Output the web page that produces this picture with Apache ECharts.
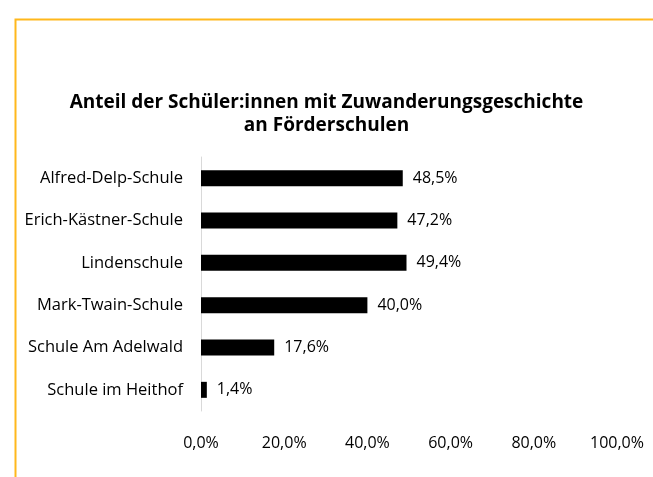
<!DOCTYPE html>
<html><head><meta charset="utf-8">
<script src="https://cdn.jsdelivr.net/npm/echarts@6/dist/echarts.min.js"></script>
<style>html,body{margin:0;padding:0;background:#fff}#c{width:653px;height:477px}</style>
</head><body><div id="c"></div>
<script>
const categories = ["Alfred-Delp-Schule","Erich-Kästner-Schule","Lindenschule","Mark-Twain-Schule","Schule Am Adelwald","Schule im Heithof"];
const values = [48.5, 47.2, 49.4, 40.0, 17.6, 1.4];
const titleLines = ["Anteil der Schüler:innen mit Zuwanderungsgeschichte","an Förderschulen"];
const fmt = v => v.toFixed(1).replace('.', ',') + '%';
const chart = echarts.init(document.getElementById('c'));
const FONT = '"Open Sans", "Liberation Sans", sans-serif';
chart.setOption({
  animation:false,
  graphic:[{type:'polyline',shape:{points:[[15.5,477],[15.5,19.5],[653,19.5]]},style:{stroke:'#FFB81C',lineWidth:2,fill:null}}],
  title:{text:titleLines.join('\n'),left:'center',top:86,textStyle:{fontFamily:FONT,fontWeight:'bold',fontSize:19,color:'#000',lineHeight:23}},
  grid:{left:201,right:36,top:157,bottom:66,containLabel:false},
  xAxis:{type:'value',min:0,max:100,interval:20,axisLine:{show:false},axisTick:{show:false},splitLine:{show:false},
    axisLabel:{formatter:v=>fmt(v),fontFamily:FONT,fontSize:16,color:'#000',margin:24}},
  yAxis:{type:'category',inverse:true,data:categories,axisLine:{show:true,lineStyle:{color:'#d9d9d9',width:1}},axisTick:{show:false},
    axisLabel:{fontFamily:FONT,fontSize:16.5,color:'#000',margin:18}},
  series:[{type:'bar',data:values,barWidth:16,itemStyle:{color:'#000'},
    label:{show:true,position:'right',distance:10,formatter:p=>fmt(p.value),fontFamily:FONT,fontSize:16,color:'#000'}}]
});
</script></body></html>
